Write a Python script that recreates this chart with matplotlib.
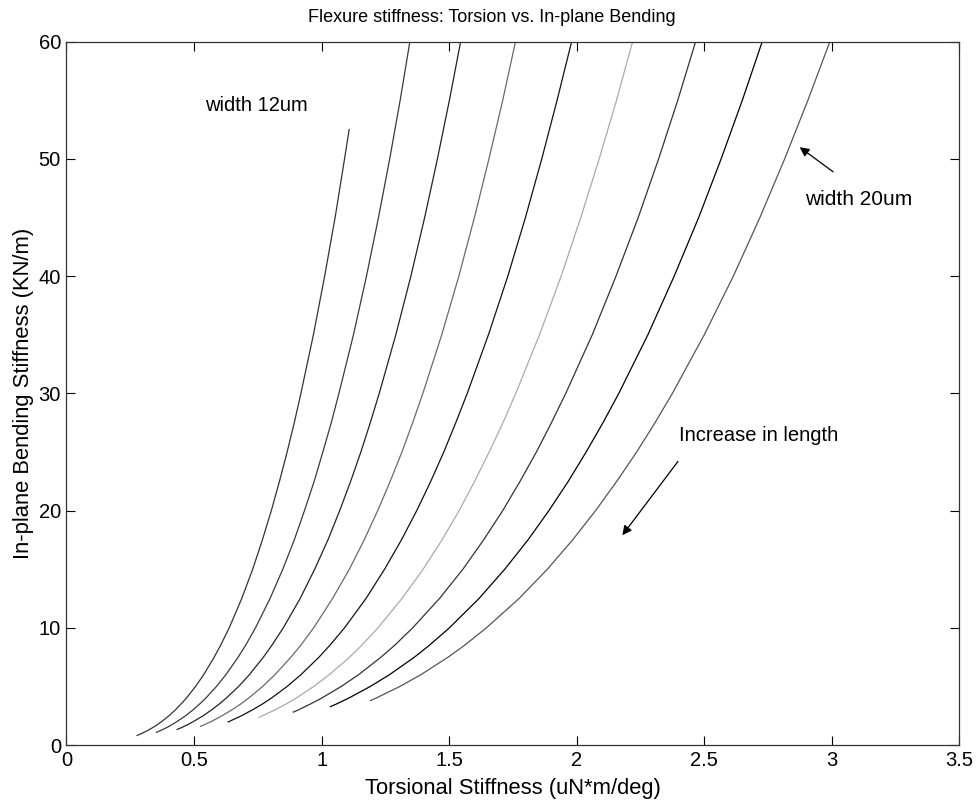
import matplotlib
matplotlib.use("Agg")
import matplotlib.pyplot as plt

plt.rcParams['font.family'] = ['Liberation Sans', 'DejaVu Sans']

# Torsional stiffness (x) and in-plane bending stiffness (y), per width
w12_x = [0.277, 0.296, 0.319, 0.339, 0.357, 0.373, 0.402, 0.427, 0.449, 0.470, 0.506, 0.538, 0.579, 0.604,
         0.638, 0.687, 0.730, 0.768, 0.803, 0.835, 0.865, 0.893, 0.919, 0.968, 1.012, 1.053, 1.090, 1.108]
w12_y = [0.82, 1.0, 1.25, 1.5, 1.75, 2.0, 2.5, 3.0, 3.5, 4.0, 5.0, 6.0, 7.5, 8.5,
         10, 12.5, 15, 17.5, 20, 22.5, 25, 27.5, 30, 35, 40, 45, 50, 52.5]

w13_x = [0.353, 0.370, 0.394, 0.414, 0.433, 0.467, 0.496, 0.522, 0.546, 0.588, 0.625, 0.673, 0.702,
         0.741, 0.798, 0.848, 0.893, 0.933, 0.971, 1.005, 1.038, 1.068, 1.125, 1.176, 1.223, 1.267, 1.308, 1.346]
w13_y = [1.08, 1.25, 1.5, 1.75, 2.0, 2.5, 3.0, 3.5, 4.0, 5.0, 6.0, 7.5, 8.5,
         10, 12.5, 15, 17.5, 20, 22.5, 25, 27.5, 30, 35, 40, 45, 50, 55, 60]

w14_x = [0.434, 0.452, 0.476, 0.497, 0.536, 0.569, 0.599, 0.626, 0.675, 0.717, 0.772, 0.805,
         0.850, 0.916, 0.973, 1.025, 1.071, 1.114, 1.154, 1.191, 1.226, 1.291, 1.350, 1.404, 1.454, 1.501, 1.545]
w14_y = [1.33, 1.5, 1.75, 2.0, 2.5, 3.0, 3.5, 4.0, 5.0, 6.0, 7.5, 8.5,
         10, 12.5, 15, 17.5, 20, 22.5, 25, 27.5, 30, 35, 40, 45, 50, 55, 60]

w15_x = [0.526, 0.542, 0.567, 0.610, 0.648, 0.683, 0.714, 0.769, 0.817, 0.880, 0.918,
         0.969, 1.043, 1.109, 1.167, 1.220, 1.269, 1.315, 1.357, 1.397, 1.471, 1.538, 1.599, 1.656, 1.710, 1.760]
w15_y = [1.60, 1.75, 2.0, 2.5, 3.0, 3.5, 4.0, 5.0, 6.0, 7.5, 8.5,
         10, 12.5, 15, 17.5, 20, 22.5, 25, 27.5, 30, 35, 40, 45, 50, 55, 60]

w16_x = [0.634, 0.686, 0.729, 0.768, 0.803, 0.865, 0.919, 0.990, 1.032,
         1.090, 1.174, 1.247, 1.313, 1.373, 1.428, 1.479, 1.526, 1.571, 1.654, 1.730, 1.799, 1.863, 1.923, 1.980]
w16_y = [1.97, 2.5, 3.0, 3.5, 4.0, 5.0, 6.0, 7.5, 8.5,
         10, 12.5, 15, 17.5, 20, 22.5, 25, 27.5, 30, 35, 40, 45, 50, 55, 60]

w17_x = [0.755, 0.817, 0.861, 0.900, 0.969, 1.030, 1.110, 1.157,
         1.221, 1.315, 1.398, 1.472, 1.539, 1.600, 1.657, 1.711, 1.761, 1.854, 1.939, 2.016, 2.088, 2.156, 2.219]
w17_y = [2.36, 3.0, 3.5, 4.0, 5.0, 6.0, 7.5, 8.5,
         10, 12.5, 15, 17.5, 20, 22.5, 25, 27.5, 30, 35, 40, 45, 50, 55, 60]

w18_x = [0.889, 0.909, 0.956, 1.000, 1.077, 1.145, 1.233, 1.286,
         1.357, 1.462, 1.554, 1.635, 1.710, 1.778, 1.842, 1.901, 1.957, 2.061, 2.154, 2.241, 2.321, 2.396, 2.466]
w18_y = [2.81, 3.0, 3.5, 4.0, 5.0, 6.0, 7.5, 8.5,
         10, 12.5, 15, 17.5, 20, 22.5, 25, 27.5, 30, 35, 40, 45, 50, 55, 60]

w19_x = [1.035, 1.058, 1.106, 1.191, 1.266, 1.364, 1.422,
         1.501, 1.617, 1.718, 1.809, 1.891, 1.967, 2.037, 2.103, 2.165, 2.279, 2.382, 2.478, 2.566, 2.649, 2.727]
w19_y = [3.28, 3.5, 4.0, 5.0, 6.0, 7.5, 8.5,
         10, 12.5, 15, 17.5, 20, 22.5, 25, 27.5, 30, 35, 40, 45, 50, 55, 60]

w20_x = [1.192, 1.213, 1.307, 1.389, 1.496, 1.560,
         1.646, 1.774, 1.885, 1.984, 2.074, 2.157, 2.235, 2.307, 2.375, 2.500, 2.614, 2.718, 2.815, 2.906, 2.992]
w20_y = [3.80, 4.0, 5.0, 6.0, 7.5, 8.5,
         10, 12.5, 15, 17.5, 20, 22.5, 25, 27.5, 30, 35, 40, 45, 50, 55, 60]

series_x = [w12_x, w13_x, w14_x, w15_x, w16_x, w17_x, w18_x, w19_x, w20_x]
series_y = [w12_y, w13_y, w14_y, w15_y, w16_y, w17_y, w18_y, w19_y, w20_y]
line_colors = ['#333333', '#3a3a3a', '#222222', '#6a6a6a', '#111111',
               '#aaaaaa', '#333333', '#000000', '#555555']

x_ticks = [0, 0.5, 1, 1.5, 2, 2.5, 3, 3.5]
x_tick_labels = ['0', '0.5', '1', '1.5', '2', '2.5', '3', '3.5']
y_ticks = [0, 10, 20, 30, 40, 50, 60]
y_tick_labels = ['0', '10', '20', '30', '40', '50', '60']

fig = plt.figure(figsize=(9.77, 8.02), dpi=100)
ax = fig.add_axes([0.068, 0.071, 0.914, 0.877])

for xs, ys, col in zip(series_x, series_y, line_colors):
    ax.plot(xs, ys, color=col, linewidth=0.9, solid_joinstyle='round')

ax.set_xlim(0, 3.5)
ax.set_ylim(0, 60)
ax.set_xticks(x_ticks)
ax.set_xticklabels(x_tick_labels)
ax.set_yticks(y_ticks)
ax.set_yticklabels(y_tick_labels)
ax.tick_params(direction='in', length=6.5, width=0.8, top=True, right=True,
               labelsize=14.5, pad=4)
for sp in ax.spines.values():
    sp.set_linewidth(0.9)
    sp.set_color('#333333')

title = ax.set_title('Flexure stiffness: Torsion vs. In-plane Bending', fontsize=13, pad=14)
title.set_x(0.476)
ax.set_xlabel('Torsional Stiffness (uN*m/deg)', fontsize=15.8, labelpad=6)
ax.set_ylabel('In-plane Bending Stiffness (KN/m)', fontsize=15.8, labelpad=3)

ax.text(0.543, 54.6, 'width 12um', fontsize=14.5, va='center', ha='left')
ax.text(2.894, 46.5, 'width 20um', fontsize=15, va='center', ha='left')
ax.text(2.40, 26.4, 'Increase in length', fontsize=14.5, va='center', ha='left')

ax.annotate('', xy=(2.874, 51.0), xytext=(3.005, 48.9),
            arrowprops=dict(arrowstyle='-|>', color='black', lw=0.9,
                            mutation_scale=14, shrinkA=0, shrinkB=0))
ax.annotate('', xy=(2.179, 17.9), xytext=(2.397, 24.2),
            arrowprops=dict(arrowstyle='-|>', color='black', lw=0.9,
                            mutation_scale=14, shrinkA=0, shrinkB=0))

fig.savefig('out.png', dpi=100)
